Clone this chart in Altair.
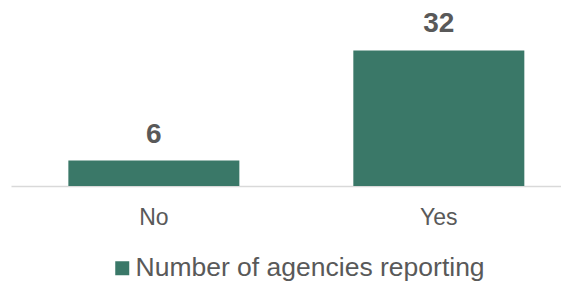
import altair as alt
import pandas as pd

categories = ["No", "Yes"]
values = [6, 32]
series = ["Number of agencies reporting", "Number of agencies reporting"]

df = pd.DataFrame({"answer": categories, "count": values, "series": series})

x_enc = alt.X(
    "answer:N",
    sort=categories,
    title=None,
    scale=alt.Scale(paddingInner=0.4, paddingOuter=0.165, align=0.61),
    axis=alt.Axis(
        labelAngle=0, labelFontSize=23, labelColor="#595959", labelFont="Liberation Sans",
        labelPadding=20, ticks=False, domainColor="#d9d9d9", domainWidth=1.5, grid=False,
    ),
)
y_enc = alt.Y("count:Q", scale=alt.Scale(domain=[0, 42]), axis=None)

bars = alt.Chart(df).mark_bar(size=171).encode(
    x=x_enc,
    y=y_enc,
    color=alt.Color(
        "series:N",
        scale=alt.Scale(range=["#3a7868"]),
        legend=alt.Legend(
            orient="none", legendX=98, legendY=247, title=None, symbolType="square",
            symbolSize=196, labelFontSize=26.5, labelColor="#595959", labelFont="Liberation Sans",
            symbolStrokeWidth=0, labelOffset=0, labelLimit=0, padding=0,
        ),
    ),
)

labels = alt.Chart(df).mark_text(
    baseline="alphabetic", dy=-18, fontSize=28, fontWeight="bold", color="#595959",
    font="Liberation Sans",
).encode(x=alt.X("answer:N", sort=categories), y=y_enc, text="count:Q")

chart = (bars + labels).properties(
    width=550, height=178,
    padding={"left": 3, "top": 0, "right": 0, "bottom": 0},
).configure_view(stroke=None)

chart.save("out.html", embed_options={"renderer": "svg", "actions": False})
